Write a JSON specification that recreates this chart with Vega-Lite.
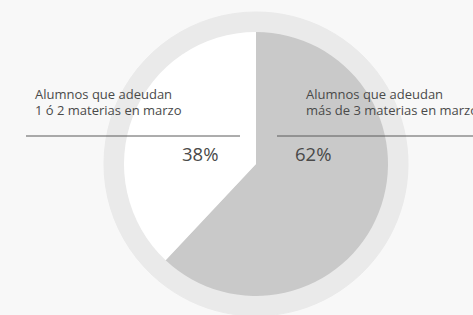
{
  "$schema": "https://vega.github.io/schema/vega-lite/v6.json",
  "autosize": {"type": "none"},
  "width": 434,
  "height": 302,
  "padding": {"left": 39, "top": 13, "right": 0, "bottom": 0},
  "background": "#f8f8f8",
  "config": {"view": {"stroke": null}, "text": {"font": "Open Sans"}},
  "data": {
    "values": [
      {"category": "más de 3", "share": 0.62, "label": ["Alumnos que adeudan", "más de 3 materias en marzo"]},
      {"category": "1 ó 2", "share": 0.38, "label": ["Alumnos que adeudan", "1 ó 2 materias en marzo"]}
    ]
  },
  "layer": [
    {
      "mark": {"type": "arc", "outerRadius": 152, "fill": "#eaeaea", "stroke": "#eaeaea", "strokeWidth": 1},
      "encoding": {
        "theta": {"field": "share", "type": "quantitative", "stack": true},
        "order": {"field": "share", "type": "quantitative", "sort": "descending"}
      }
    },
    {
      "mark": {"type": "arc", "outerRadius": 132},
      "encoding": {
        "theta": {"field": "share", "type": "quantitative", "stack": true},
        "order": {"field": "share", "type": "quantitative", "sort": "descending"},
        "color": {"field": "category", "type": "nominal", "legend": null,
          "scale": {"domain": ["más de 3", "1 ó 2"], "range": ["#c9c9c9", "#ffffff"]}}
      }
    },
    {
      "transform": [{"filter": "datum.category == '1 ó 2'"}],
      "mark": {"type": "rule", "stroke": "#5a5a5a", "strokeWidth": 1},
      "encoding": {
        "x": {"datum": 26, "type": "quantitative", "scale": {"domain": [39, 473]}, "axis": null},
        "x2": {"datum": 240},
        "y": {"datum": 136, "type": "quantitative", "scale": {"domain": [13, 315], "reverse": true}, "axis": null}
      }
    },
    {
      "transform": [{"filter": "datum.category == 'más de 3'"}],
      "mark": {"type": "rule", "stroke": "#5a5a5a", "strokeWidth": 1},
      "encoding": {
        "x": {"datum": 277, "type": "quantitative", "scale": {"domain": [39, 473]}, "axis": null},
        "x2": {"datum": 480},
        "y": {"datum": 136, "type": "quantitative", "scale": {"domain": [13, 315], "reverse": true}, "axis": null}
      }
    },
    {
      "transform": [{"filter": "datum.category == '1 ó 2'"}],
      "mark": {"type": "text", "align": "left", "baseline": "alphabetic", "fontSize": 13, "lineHeight": 16, "color": "#4a4a4a"},
      "encoding": {
        "x": {"datum": 35, "type": "quantitative", "scale": {"domain": [39, 473]}, "axis": null},
        "y": {"datum": 99, "type": "quantitative", "scale": {"domain": [13, 315], "reverse": true}, "axis": null},
        "text": {"field": "label", "type": "nominal"}
      }
    },
    {
      "transform": [{"filter": "datum.category == 'más de 3'"}],
      "mark": {"type": "text", "align": "left", "baseline": "alphabetic", "fontSize": 13, "lineHeight": 16, "color": "#4a4a4a"},
      "encoding": {
        "x": {"datum": 306, "type": "quantitative", "scale": {"domain": [39, 473]}, "axis": null},
        "y": {"datum": 99, "type": "quantitative", "scale": {"domain": [13, 315], "reverse": true}, "axis": null},
        "text": {"field": "label", "type": "nominal"}
      }
    },
    {
      "transform": [{"filter": "datum.category == '1 ó 2'"}],
      "mark": {"type": "text", "align": "left", "baseline": "alphabetic", "fontSize": 18.5, "color": "#4a4a4a"},
      "encoding": {
        "x": {"datum": 182, "type": "quantitative", "scale": {"domain": [39, 473]}, "axis": null},
        "y": {"datum": 161, "type": "quantitative", "scale": {"domain": [13, 315], "reverse": true}, "axis": null},
        "text": {"field": "share", "type": "quantitative", "format": ".0%"}
      }
    },
    {
      "transform": [{"filter": "datum.category == 'más de 3'"}],
      "mark": {"type": "text", "align": "left", "baseline": "alphabetic", "fontSize": 18.5, "color": "#4a4a4a"},
      "encoding": {
        "x": {"datum": 295, "type": "quantitative", "scale": {"domain": [39, 473]}, "axis": null},
        "y": {"datum": 161, "type": "quantitative", "scale": {"domain": [13, 315], "reverse": true}, "axis": null},
        "text": {"field": "share", "type": "quantitative", "format": ".0%"}
      }
    }
  ]
}
